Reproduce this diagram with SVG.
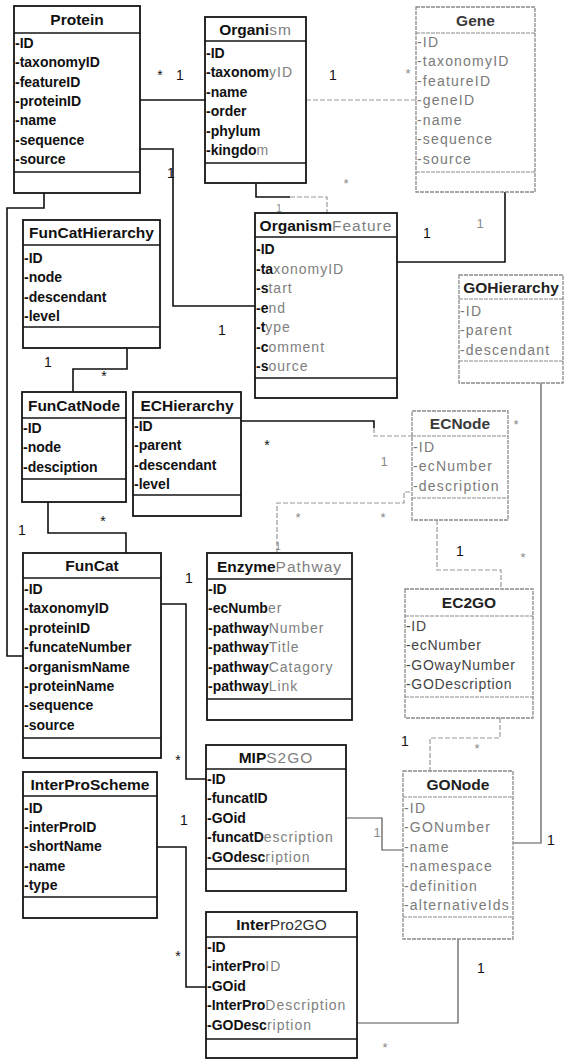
<svg xmlns="http://www.w3.org/2000/svg" width="564" height="1061" viewBox="0 0 564 1061">
<style>
  .box{fill:#fff;stroke:#151515;stroke-width:1.8}
  .lbox{fill:#fff;stroke:#8c8c8c;stroke-width:1.3;stroke-dasharray:4 1}
  .sep{stroke:#151515;stroke-width:1.5}
  .lsep{stroke:#8c8c8c;stroke-width:1.2;stroke-dasharray:4 1}
  .hd{font-family:"Liberation Sans",Arial,sans-serif;font-size:15.5px;font-weight:bold;fill:#111;text-anchor:middle}
  .lhd{font-family:"Liberation Sans",Arial,sans-serif;font-size:15.5px;font-weight:bold;fill:#3a3a3a;text-anchor:middle}
  .at{font-family:"Liberation Sans",Arial,sans-serif;font-size:14px;font-weight:bold;fill:#111}
  .lt{font-family:"Liberation Sans",Arial,sans-serif;font-size:14px;font-weight:normal;fill:#7a7a7a;letter-spacing:1.2px}
  .mt{font-family:"Liberation Sans",Arial,sans-serif;font-size:14px;font-weight:normal;fill:#444;letter-spacing:0.7px}
  .f{font-weight:normal;fill:#808080;letter-spacing:1px}
  .c{fill:none;stroke:#111;stroke-width:1.6}
  .cl{fill:none;stroke:#9a9a9a;stroke-width:1.2;stroke-dasharray:5 2}
  .cm{fill:none;stroke:#555;stroke-width:1.2}
  .m{font-family:"Liberation Sans",Arial,sans-serif;font-size:14px;fill:#111;text-anchor:middle}
  .ml{font-family:"Liberation Sans",Arial,sans-serif;font-size:13px;fill:#8a8a8a;text-anchor:middle}
</style>

<!-- associations -->
<g id="connectors">
  <path class="c" d="M140,100 H205"/>
  <path class="cl" d="M306,100 H416"/>
  <path class="c" d="M140,149 H173 V306 H255"/>
  <path class="c" d="M256,183 V197 H290"/>
  <path class="cl" d="M290,197 H327 V213"/>
  <path class="c" d="M505,192 V262 H397"/>
  <path class="c" d="M44,193 V208 H7 V656 H23"/>
  <path class="c" d="M127,348 V369 H73 V392"/>
  <path class="c" d="M48,502 V533 H126 V553"/>
  <path class="c" d="M241,421 H374 V428"/>
  <path class="cl" d="M374,428 V436 H412"/>
  <path class="cl" d="M277,553 V503 H404 V492 H412"/>
  <path class="cl" d="M437,520 V570 H501 V589"/>
  <path class="cl" d="M500,718 V738 H430 V771"/>
  <path class="cm" d="M541,383 V843 H513"/>
  <path class="c" d="M161,604 H186 V779 H206"/>
  <path class="cm" d="M346,818 H382 V850 H403"/>
  <path class="c" d="M157,847 H186 V987 H206"/>
  <path class="cm" d="M458,939 V1023 H357"/>

  <!-- multiplicities -->
  <text class="m" x="160" y="80">*</text>
  <text class="m" x="180" y="80">1</text>
  <text class="m" x="333" y="80">1</text>
  <text class="ml" x="408" y="78">*</text>
  <text class="m" x="171" y="178">1</text>
  <text class="m" x="222" y="335">1</text>
  <text class="ml" x="346" y="188">*</text>
  <text class="ml" x="279" y="212" style="font-size:10px">1</text>
  <text class="m" x="427" y="238">1</text>
  <text class="ml" x="480" y="228">1</text>
  <text class="m" x="48" y="367">1</text>
  <text class="m" x="104" y="381">*</text>
  <text class="m" x="22" y="535">1</text>
  <text class="m" x="103" y="526">*</text>
  <text class="m" x="267" y="450">*</text>
  <text class="ml" x="384" y="466">1</text>
  <text class="ml" x="298" y="522">*</text>
  <text class="ml" x="383" y="522">*</text>
  <text class="ml" x="278" y="550" style="font-size:10px">1</text>
  <text class="m" x="460" y="556">1</text>
  <text class="ml" x="523" y="562">*</text>
  <text class="m" x="405" y="746">1</text>
  <text class="ml" x="477" y="753">*</text>
  <text class="ml" x="516" y="429">*</text>
  <text class="m" x="551" y="845">1</text>
  <text class="m" x="189" y="583">1</text>
  <text class="m" x="178" y="765">*</text>
  <text class="ml" x="343" y="803">*</text>
  <text class="ml" x="377" y="837">1</text>
  <text class="m" x="184" y="825">1</text>
  <text class="m" x="178" y="961">*</text>
  <text class="m" x="481" y="973">1</text>
  <text class="ml" x="385" y="1052">*</text>
</g>

<g id="Protein">
  <rect class="box" x="14" y="6" width="126" height="187"/>
  <line class="sep" x1="14" y1="33" x2="140" y2="33"/>
  <line class="sep" x1="14" y1="172" x2="140" y2="172"/>
  <text class="hd" x="77" y="25">Protein</text>
  <text class="at" x="15" y="47.7">-ID</text>
  <text class="at" x="15" y="67.1">-taxonomyID</text>
  <text class="at" x="15" y="86.5">-featureID</text>
  <text class="at" x="15" y="105.9">-proteinID</text>
  <text class="at" x="15" y="125.3">-name</text>
  <text class="at" x="15" y="144.7">-sequence</text>
  <text class="at" x="15" y="164.1">-source</text>
</g>

<g id="Organism">
  <rect class="box" x="205" y="17" width="101" height="166"/>
  <line class="sep" x1="205" y1="41" x2="306" y2="41"/>
  <line class="sep" x1="205" y1="163" x2="306" y2="163"/>
  <text class="hd" x="255.5" y="34.5">Organi<tspan class="f">sm</tspan></text>
  <text class="at" x="206" y="57.7">-ID</text>
  <text class="at" x="206" y="77.2">-taxonom<tspan class="f">yID</tspan></text>
  <text class="at" x="206" y="96.7">-name</text>
  <text class="at" x="206" y="116.2">-order</text>
  <text class="at" x="206" y="135.7">-phylum</text>
  <text class="at" x="206" y="155.2">-kingdo<tspan class="f">m</tspan></text>
</g>

<g id="Gene">
  <rect class="lbox" x="416" y="7" width="119" height="185"/>
  <line class="lsep" x1="416" y1="33" x2="535" y2="33"/>
  <line class="lsep" x1="416" y1="172" x2="535" y2="172"/>
  <text class="lhd" x="475.5" y="25.5">Gene</text>
  <text class="lt" x="417" y="46.5">-ID</text>
  <text class="lt" x="417" y="66">-taxonomyID</text>
  <text class="lt" x="417" y="85.5">-featureID</text>
  <text class="lt" x="417" y="105">-geneID</text>
  <text class="lt" x="417" y="124.5">-name</text>
  <text class="lt" x="417" y="144">-sequence</text>
  <text class="lt" x="417" y="163.5">-source</text>
</g>

<g id="OrganismFeature">
  <rect class="box" x="255" y="213" width="142" height="185"/>
  <line class="sep" x1="255" y1="237" x2="397" y2="237"/>
  <line class="sep" x1="255" y1="378" x2="397" y2="378"/>
  <text class="hd" x="326" y="230.5">Organism<tspan class="f">Feature</tspan></text>
  <text class="at" x="256" y="254">-ID</text>
  <text class="at" x="256" y="273.5">-ta<tspan class="f">xonomyID</tspan></text>
  <text class="at" x="256" y="293">-s<tspan class="f">tart</tspan></text>
  <text class="at" x="256" y="312.5">-e<tspan class="f">nd</tspan></text>
  <text class="at" x="256" y="332">-t<tspan class="f">ype</tspan></text>
  <text class="at" x="256" y="351.5">-c<tspan class="f">omment</tspan></text>
  <text class="at" x="256" y="371">-s<tspan class="f">ource</tspan></text>
</g>

<g id="FunCatHierarchy">
  <rect class="box" x="23" y="220" width="137" height="128"/>
  <line class="sep" x1="23" y1="245" x2="160" y2="245"/>
  <line class="sep" x1="23" y1="327" x2="160" y2="327"/>
  <text class="hd" x="91.5" y="238">FunCatHierarchy</text>
  <text class="at" x="24" y="263">-ID</text>
  <text class="at" x="24" y="282.4">-node</text>
  <text class="at" x="24" y="301.8">-descendant</text>
  <text class="at" x="24" y="321.2">-level</text>
</g>

<g id="GOHierarchy">
  <rect class="lbox" x="459" y="275" width="104" height="108"/>
  <line class="lsep" x1="459" y1="299" x2="563" y2="299"/>
  <line class="lsep" x1="459" y1="361" x2="563" y2="361"/>
  <text class="lhd" x="511" y="292.5" style="fill:#222">GOHierarchy</text>
  <text class="lt" x="460" y="316">-ID</text>
  <text class="lt" x="460" y="335.4">-parent</text>
  <text class="lt" x="460" y="354.8">-descendant</text>
</g>

<g id="FunCatNode">
  <rect class="box" x="22" y="392" width="104" height="110"/>
  <line class="sep" x1="22" y1="418" x2="126" y2="418"/>
  <line class="sep" x1="22" y1="479" x2="126" y2="479"/>
  <text class="hd" x="74" y="410.5">FunCatNode</text>
  <text class="at" x="23" y="433">-ID</text>
  <text class="at" x="23" y="452.4">-node</text>
  <text class="at" x="23" y="471.8">-desciption</text>
</g>

<g id="ECHierarchy">
  <rect class="box" x="133" y="392" width="108" height="124"/>
  <line class="sep" x1="133" y1="418" x2="241" y2="418"/>
  <line class="sep" x1="133" y1="495" x2="241" y2="495"/>
  <text class="hd" x="187" y="410.5">ECHierarchy</text>
  <text class="at" x="134" y="431">-ID</text>
  <text class="at" x="134" y="450.4">-parent</text>
  <text class="at" x="134" y="469.8">-descendant</text>
  <text class="at" x="134" y="489.2">-level</text>
</g>

<g id="ECNode">
  <rect class="lbox" x="412" y="411" width="96" height="109"/>
  <line class="lsep" x1="412" y1="436" x2="508" y2="436"/>
  <line class="lsep" x1="412" y1="498" x2="508" y2="498"/>
  <text class="lhd" x="460" y="429">ECNode</text>
  <text class="lt" x="413" y="452">-ID</text>
  <text class="lt" x="413" y="471.4">-ecNumber</text>
  <text class="lt" x="413" y="490.8">-description</text>
</g>

<g id="FunCat">
  <rect class="box" x="23" y="553" width="138" height="205"/>
  <line class="sep" x1="23" y1="578" x2="161" y2="578"/>
  <line class="sep" x1="23" y1="738" x2="161" y2="738"/>
  <text class="hd" x="92" y="570.5">FunCat</text>
  <text class="at" x="24" y="594">-ID</text>
  <text class="at" x="24" y="613.4">-taxonomyID</text>
  <text class="at" x="24" y="632.8">-proteinID</text>
  <text class="at" x="24" y="652.2">-funcateNumber</text>
  <text class="at" x="24" y="671.6">-organismName</text>
  <text class="at" x="24" y="691">-proteinName</text>
  <text class="at" x="24" y="710.4">-sequence</text>
  <text class="at" x="24" y="729.8">-source</text>
</g>

<g id="EnzymePathway">
  <rect class="box" x="207" y="553" width="145" height="167"/>
  <line class="sep" x1="207" y1="579" x2="352" y2="579"/>
  <line class="sep" x1="207" y1="699" x2="352" y2="699"/>
  <text class="hd" x="279.5" y="571.5">Enzyme<tspan class="f">Pathway</tspan></text>
  <text class="at" x="208" y="594">-ID</text>
  <text class="at" x="208" y="613.4">-ecNumb<tspan class="f">er</tspan></text>
  <text class="at" x="208" y="632.8">-pathway<tspan class="f">Number</tspan></text>
  <text class="at" x="208" y="652.2">-pathway<tspan class="f">Title</tspan></text>
  <text class="at" x="208" y="671.6">-pathway<tspan class="f">Catagory</tspan></text>
  <text class="at" x="208" y="691">-pathway<tspan class="f">Link</tspan></text>
</g>

<g id="EC2GO">
  <rect class="lbox" x="405" y="589" width="128" height="129"/>
  <line class="lsep" x1="405" y1="616" x2="533" y2="616"/>
  <line class="lsep" x1="405" y1="697" x2="533" y2="697"/>
  <text class="lhd" x="469" y="608" style="fill:#222">EC2GO</text>
  <text class="mt" x="406" y="631">-ID</text>
  <text class="mt" x="406" y="650.4">-ecNumber</text>
  <text class="mt" x="406" y="669.8">-GOwayNumber</text>
  <text class="mt" x="406" y="689.2">-GODescription</text>
</g>

<g id="MIPS2GO">
  <rect class="box" x="206" y="745" width="140" height="146"/>
  <line class="sep" x1="206" y1="769" x2="346" y2="769"/>
  <line class="sep" x1="206" y1="869" x2="346" y2="869"/>
  <text class="hd" x="276" y="762.5">MIP<tspan class="f">S2GO</tspan></text>
  <text class="at" x="207" y="784">-ID</text>
  <text class="at" x="207" y="803.4">-funcatID</text>
  <text class="at" x="207" y="822.8">-GOid</text>
  <text class="at" x="207" y="842.2">-funcatD<tspan class="f">escription</tspan></text>
  <text class="at" x="207" y="861.6">-GOdesc<tspan class="f">ription</tspan></text>
</g>

<g id="InterProScheme">
  <rect class="box" x="23" y="772" width="134" height="146"/>
  <line class="sep" x1="23" y1="796" x2="157" y2="796"/>
  <line class="sep" x1="23" y1="897" x2="157" y2="897"/>
  <text class="hd" x="90" y="789.5">InterProScheme</text>
  <text class="at" x="24" y="812.5">-ID</text>
  <text class="at" x="24" y="831.9">-interProID</text>
  <text class="at" x="24" y="851.3">-shortName</text>
  <text class="at" x="24" y="870.7">-name</text>
  <text class="at" x="24" y="890.1">-type</text>
</g>

<g id="GONode">
  <rect class="lbox" x="403" y="771" width="110" height="168"/>
  <line class="lsep" x1="403" y1="797" x2="513" y2="797"/>
  <line class="lsep" x1="403" y1="917" x2="513" y2="917"/>
  <text class="lhd" x="458" y="789.5" style="fill:#222">GONode</text>
  <text class="lt" x="404" y="813">-ID</text>
  <text class="lt" x="404" y="832.4">-GONumber</text>
  <text class="lt" x="404" y="851.8">-name</text>
  <text class="lt" x="404" y="871.2">-namespace</text>
  <text class="lt" x="404" y="890.6">-definition</text>
  <text class="lt" x="404" y="910">-alternativeIds</text>
</g>

<g id="InterPro2GO">
  <rect class="box" x="206" y="912" width="151" height="146"/>
  <line class="sep" x1="206" y1="937" x2="357" y2="937"/>
  <line class="sep" x1="206" y1="1039" x2="357" y2="1039"/>
  <text class="hd" x="281.5" y="930">Inter<tspan style="font-weight:normal;fill:#333">Pro2GO</tspan></text>
  <text class="at" x="207" y="952">-ID</text>
  <text class="at" x="207" y="971.4">-interPro<tspan class="f">ID</tspan></text>
  <text class="at" x="207" y="990.8">-GOid</text>
  <text class="at" x="207" y="1010.2">-InterPro<tspan class="f">Description</tspan></text>
  <text class="at" x="207" y="1029.6">-GODesc<tspan class="f">ription</tspan></text>
</g>
</svg>
